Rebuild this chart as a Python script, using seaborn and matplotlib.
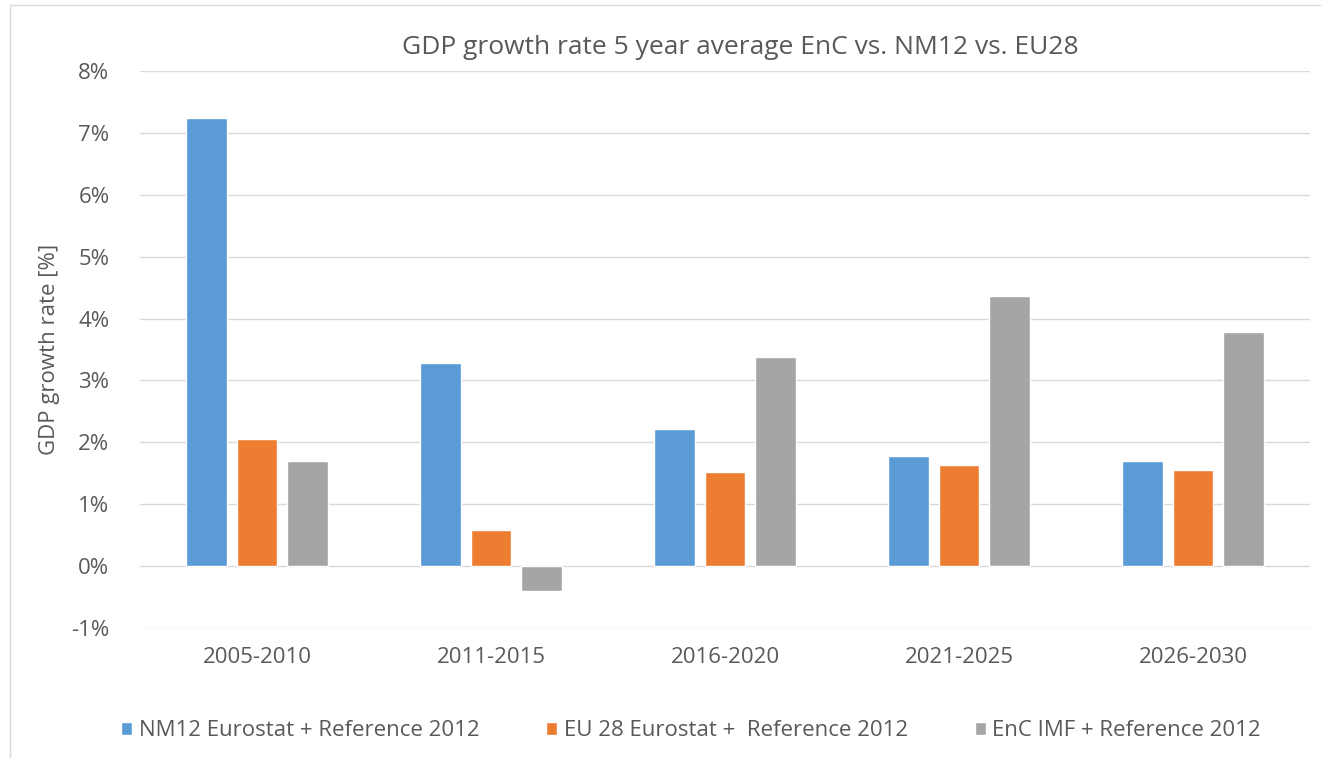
import matplotlib
matplotlib.use("Agg")
import matplotlib.pyplot as plt
import seaborn as sns
import pandas as pd
from matplotlib.patches import Rectangle
from matplotlib.ticker import FuncFormatter

periods = ["2005-2010", "2011-2015", "2016-2020", "2021-2025", "2026-2030"]
series_names = ["NM12 Eurostat + Reference 2012",
                "EU 28 Eurostat +  Reference 2012",
                "EnC IMF + Reference 2012"]
nm12 = [7.24, 3.28, 2.21, 1.78, 1.70]
eu28 = [2.05, 0.58, 1.52, 1.63, 1.55]
enc = [1.70, -0.40, 3.38, 4.36, 3.78]
colors = ["#5B9BD5", "#ED7D31", "#A5A5A5"]

rows = []
for name, vals in zip(series_names, [nm12, eu28, enc]):
    for p, v in zip(periods, vals):
        rows.append({"period": p, "series": name, "value": v})
df = pd.DataFrame(rows)

sns.set_theme(style="white")
plt.rcParams["font.family"] = ["Open Sans", "DejaVu Sans"]
txt = "#595959"

fig = plt.figure(figsize=(13.21, 7.58), dpi=100)
ax = fig.add_axes([140/1321, 1-628/758, (1310-140)/1321, (628-71)/758])

sns.barplot(data=df, x="period", y="value", hue="series", palette=colors,
            width=0.65, gap=0.2, ax=ax, legend=True, saturation=1)

ax.set_ylim(-1, 8)
ax.set_yticks(range(-1, 9))
ax.yaxis.set_major_formatter(FuncFormatter(lambda v, p: f"{int(v)}%"))
ax.grid(axis="y", color="#D9D9D9", linewidth=1)
ax.set_axisbelow(True)
for s in ax.spines.values():
    s.set_visible(False)
ax.tick_params(axis="both", length=0, labelsize=16, labelcolor=txt)
ax.tick_params(axis="y", pad=22)
ax.tick_params(axis="x", pad=14)
ax.set_xlabel("")
ax.set_ylabel("GDP growth rate [%]", fontsize=16, color=txt, labelpad=8)
ax.set_title("GDP growth rate 5 year average EnC vs. NM12 vs. EU28",
             fontsize=19, color=txt, pad=12, x=(740-140)/1170)

handles, labels = ax.get_legend_handles_labels()
ax.get_legend().remove()
fig.legend(handles, labels, loc="center", bbox_to_anchor=(0.523, 1-731/758),
           ncol=3, frameon=False, fontsize=16, labelcolor=txt,
           handlelength=0.5, handleheight=0.5, handletextpad=0.3,
           columnspacing=3.0)

fig.patches.append(Rectangle((10/1321, -0.05), 1.2, 1-5/758+0.05,
                             transform=fig.transFigure, fill=False,
                             edgecolor="#D9D9D9", linewidth=1))

fig.savefig("out.png", dpi=100)
